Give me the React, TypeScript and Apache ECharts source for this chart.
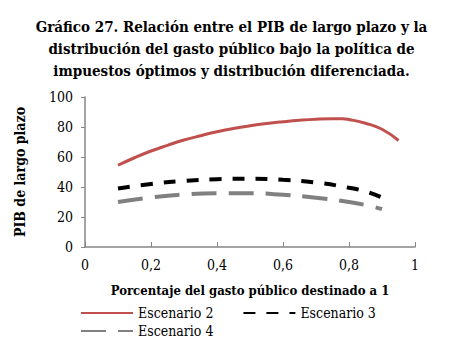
import React, { useEffect, useRef } from "react";
import * as echarts from "echarts";

const titleText =
  "Gráfico 27. Relación entre el PIB de largo plazo y la\ndistribución del gasto público bajo la política de\nimpuestos óptimos y distribución diferenciada.";
const xAxisName = "Porcentaje del gasto público destinado a 1";
const yAxisName = "PIB de largo plazo";

const xs2 = [0.1, 0.15, 0.2, 0.25, 0.3, 0.35, 0.4, 0.45, 0.5, 0.55, 0.6, 0.65, 0.7, 0.75, 0.78, 0.8, 0.85, 0.9, 0.95];
const escenario2 = [54.5, 59.5, 64, 67.8, 71.3, 74.2, 76.8, 79, 80.8, 82.3, 83.5, 84.5, 85.2, 85.5, 85.5, 85, 82.5, 78.5, 71];

const xs34 = [0.1, 0.2, 0.3, 0.4, 0.5, 0.6, 0.7, 0.8, 0.85, 0.9];
const escenario3 = [39, 42, 44, 45.2, 45.5, 44.8, 43, 39.5, 37, 33];
const escenario4 = [30, 33, 35, 35.8, 35.8, 34.8, 32.8, 30, 28, 25.3];

const serif = "DejaVu Serif Condensed";

const pairs = (xs: number[], ys: number[]) => xs.map((x, i) => [x, ys[i]]);

export default function App() {
  const ref = useRef<HTMLDivElement>(null);
  useEffect(() => {
    if (!ref.current) return;
    const chart = echarts.init(ref.current, undefined, { renderer: "svg" });
    chart.setOption({
      animation: false,
      backgroundColor: "#fff",
      textStyle: { color: "#000", fontFamily: serif },
      title: {
        text: titleText,
        left: "center",
        top: 11,
        textStyle: {
          fontFamily: serif,
          fontSize: 15,
          fontWeight: "bold",
          color: "#000",
          lineHeight: 22,
        },
      },
      grid: { left: 85, right: 48, top: 97, bottom: 96 },
      xAxis: {
        type: "value",
        min: 0,
        max: 1,
        interval: 0.2,
        name: xAxisName,
        nameLocation: "middle",
        nameGap: 37,
        nameTextStyle: { fontFamily: serif, fontSize: 13, fontWeight: "bold", color: "#000" },
        axisLine: { show: true, lineStyle: { color: "#868686", width: 1.5 } },
        axisTick: { show: true, inside: true, length: 5, lineStyle: { color: "#868686" } },
        splitLine: { show: false },
        axisLabel: {
          fontFamily: serif,
          fontSize: 14,
          color: "#000",
          margin: 11,
          formatter: (v: number) => String(Math.round(v * 10) / 10).replace(".", ","),
        },
      },
      yAxis: {
        type: "value",
        min: 0,
        max: 100,
        interval: 20,
        name: yAxisName,
        nameLocation: "middle",
        nameGap: 58,
        nameTextStyle: { fontFamily: serif, fontSize: 14, fontWeight: "bold", color: "#000" },
        axisLine: { show: true, lineStyle: { color: "#868686", width: 1.5 } },
        axisTick: { show: true, inside: false, length: 4, lineStyle: { color: "#868686" } },
        splitLine: { show: false },
        axisLabel: { fontFamily: serif, fontSize: 14, color: "#000", margin: 12 },
      },
      legend: [
        {
          data: ["Escenario 2", "Escenario 3"],
          left: 80,
          top: 306,
          itemWidth: 52,
          itemHeight: 10,
          itemGap: 29,
          itemStyle: { opacity: 0 },
          textStyle: { fontFamily: serif, fontSize: 14, color: "#000" },
          padding: 0,
        },
        {
          data: ["Escenario 4"],
          left: 80,
          top: 324,
          itemWidth: 52,
          itemHeight: 10,
          itemStyle: { opacity: 0 },
          textStyle: { fontFamily: serif, fontSize: 14, color: "#000" },
          padding: 0,
        },
      ],
      series: [
        {
          name: "Escenario 2",
          type: "line",
          smooth: true,
          symbol: "none",
          data: pairs(xs2, escenario2),
          lineStyle: { color: "#C0504D", width: 3 },
          itemStyle: { color: "#C0504D" },
        },
        {
          name: "Escenario 3",
          type: "line",
          smooth: true,
          symbol: "none",
          data: pairs(xs34, escenario3),
          lineStyle: { color: "#000", width: 4, type: [12, 11] },
          itemStyle: { color: "#000" },
        },
        {
          name: "Escenario 4",
          type: "line",
          smooth: true,
          symbol: "none",
          data: pairs(xs34, escenario4),
          lineStyle: { color: "#808080", width: 4, type: [25, 12] },
          itemStyle: { color: "#808080" },
        },
      ],
    });
    return () => chart.dispose();
  }, []);
  return (
    <div
      ref={ref}
      style={{ position: "fixed", left: 0, top: 0, width: 463, height: 343 }}
    />
  );
}
